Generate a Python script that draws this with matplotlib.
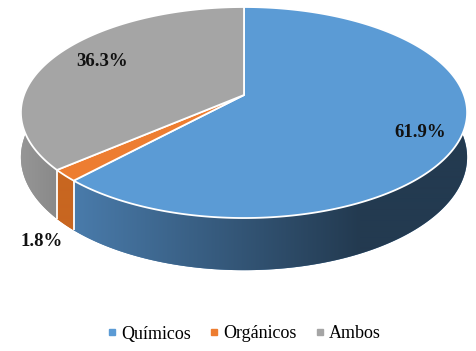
import numpy as np
import matplotlib
matplotlib.use("Agg")
import matplotlib.pyplot as plt
from matplotlib.patches import Polygon
from matplotlib.lines import Line2D

plt.rcParams["font.family"] = ["Liberation Serif", "DejaVu Serif"]

# data
categories = ["Químicos", "Orgánicos", "Ambos"]
shares = [61.9, 1.8, 36.3]
labels = ["61.9%", "1.8%", "36.3%"]
top_colors = ["#5B9BD5", "#ED7D31", "#A5A5A5"]
# side shading: (colour at left, colour at right, x range of the ramp)
side_ramps = [((74, 124, 172), (35, 58, 80), (70, 360)),
              ((200, 102, 32), (200, 102, 32), (50, 80)),
              ((150, 150, 150), (136, 136, 136), (20, 60))]

# projection of the pie plane (pixel space), simple perspective
cx, cy = 244.0, 95.0
A, B, k = 220.0, 102.6, 0.166
depth = 43.5


def project(alpha, r=1.0, drop=0.0):
    # alpha measured clockwise from the far (top) point
    u = r * np.sin(alpha)
    v = -r * np.cos(alpha)
    s = 1.0 / (1.0 - k * v)
    return cx + A * u * s, cy + B * v * s + drop * s


fig = plt.figure(figsize=(4.77, 3.51), dpi=100)
ax = fig.add_axes([0, 0, 1, 1])
ax.set_xlim(0, 477)
ax.set_ylim(351, 0)
ax.axis("off")

fracs = np.array(shares) / sum(shares)
bounds = np.concatenate([[0], np.cumsum(fracs)]) * 2 * np.pi
front_lo = np.pi / 2 - 0.25          # right silhouette, a little behind
front_hi = 3 * np.pi / 2 + 0.25      # left silhouette

# side walls, one gradient-filled polygon per slice
xgrid = np.arange(0, 478)
for i in range(len(shares)):
    a0 = max(bounds[i], front_lo)
    a1 = min(bounds[i + 1], front_hi)
    if a1 <= a0:
        continue
    a = np.linspace(a0, a1, 200)
    xt, yt = project(a)
    xb, yb = project(a[::-1], drop=depth)
    pts = list(zip(xt, yt)) + list(zip(xb, yb))
    c_left, c_right, (xl, xr) = side_ramps[i]
    t = np.clip((xgrid - xl) / (xr - xl), 0, 1)[None, :, None]
    ramp = (np.array(c_left) + (np.array(c_right) - np.array(c_left)) * t) / 255.0
    base = Polygon(pts, closed=True, facecolor=tuple(np.array(c_left) / 255.0),
                   edgecolor="none")
    ax.add_patch(base)
    im = ax.imshow(ramp, extent=(0, 478, 351, 0), aspect="auto",
                   interpolation="bilinear", zorder=1)
    im.set_clip_path(base)

# white seams on the side between slices
for b in bounds[1:-1]:
    if -np.cos(b) > 0:
        xa, ya = project(b)
        xb, yb = project(b, drop=depth)
        ax.plot([xa, xb], [ya, yb], color="white", lw=1.3,
                solid_capstyle="butt", zorder=2)

# top faces
for i in range(len(shares)):
    a = np.linspace(bounds[i], bounds[i + 1], max(int(fracs[i] * 400), 4))
    xs, ys = project(a)
    pts = [(cx, cy)] + list(zip(xs, ys))
    ax.add_patch(Polygon(pts, closed=True, facecolor=top_colors[i],
                         edgecolor="white", lw=1.3, joinstyle="miter", zorder=3))

# labels
label_pos = []
for i in range(len(shares)):
    mid = (bounds[i] + bounds[i + 1]) / 2
    label_pos.append(project(mid, r=0.8))
label_pos[1] = (42, 241)
label_pos[0] = (label_pos[0][0] + 4, label_pos[0][1] + 6)
label_pos[2] = (label_pos[2][0] + 10, label_pos[2][1] - 1)
for (x, y), t in zip(label_pos, labels):
    ax.text(x, y, t, ha="center", va="center", fontsize=13.5, fontweight="bold",
            color="#111111", zorder=5)

handles = [Line2D([], [], marker="s", ls="", markersize=4.5, color=c)
           for c in top_colors]
fig.legend(handles, categories, loc="center", ncol=3, frameon=False,
           bbox_to_anchor=(243 / 477, 1 - 334 / 351),
           prop={"size": 13}, handletextpad=0.1, columnspacing=0.9,
           handlelength=0.8)

fig.savefig("out.png", dpi=100)
